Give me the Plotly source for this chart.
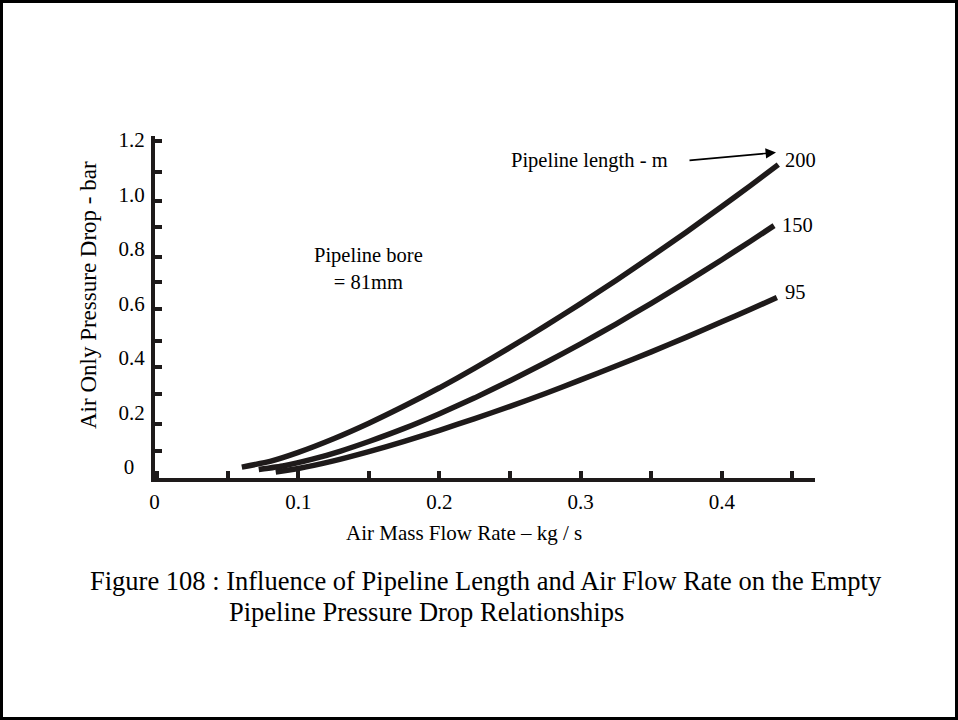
import plotly.graph_objects as go

# ---- data ----
flow_200 = [0.060, 0.080, 0.100, 0.125, 0.150, 0.175, 0.200, 0.225, 0.250,
            0.275, 0.300, 0.325, 0.350, 0.375, 0.400, 0.420, 0.440]
dp_200 = [0.000, 0.021, 0.054, 0.104, 0.161, 0.224, 0.291, 0.363, 0.439,
          0.518, 0.600, 0.685, 0.773, 0.863, 0.956, 1.032, 1.110]

flow_150 = [0.072, 0.090, 0.110, 0.130, 0.150, 0.175, 0.200, 0.225, 0.250,
            0.275, 0.300, 0.325, 0.350, 0.375, 0.400, 0.420, 0.437]
dp_150 = [-0.009, 0.005, 0.029, 0.059, 0.094, 0.142, 0.196, 0.254, 0.317,
          0.383, 0.452, 0.525, 0.601, 0.680, 0.761, 0.828, 0.886]

flow_95 = [0.084, 0.100, 0.125, 0.150, 0.175, 0.200, 0.225, 0.250, 0.275,
           0.300, 0.325, 0.350, 0.375, 0.400, 0.420, 0.439]
dp_95 = [-0.018, -0.005, 0.023, 0.057, 0.094, 0.135, 0.178, 0.223, 0.270,
         0.320, 0.371, 0.423, 0.477, 0.533, 0.578, 0.622]

series_labels = ["200", "150", "95"]

x_tick_vals = [0, 0.1, 0.2, 0.3, 0.4]
x_tick_text = ["0\u00a0", "0.1", "0.2", "0.3", "0.4"]
y_tick_vals = [0, 0.2, 0.4, 0.6, 0.8, 1.0, 1.2]
y_tick_text = ["0\u00a0\u00a0", "0.2", "0.4", "0.6", "0.8", "1.0", "1.2"]
y_minor_vals = [0.06, 0.16, 0.27, 0.366, 0.464, 0.582, 0.678, 0.77, 0.88, 0.978, 1.082, 1.198]

# ---- layout geometry (pixels) ----
W, H = 958, 720
L, R, T, B = 155, 143, 136, 242
PW, PH = W - L - R, H - T - B

def px(xpix):
    return (xpix - L) / PW

def py(ypix):
    return (H - B - ypix) / PH

FONT = "Liberation Serif, Times New Roman, serif"
INK = "#1e1a1a"

fig = go.Figure()
for xs, ys in [(flow_200, dp_200), (flow_150, dp_150), (flow_95, dp_95)]:
    fig.add_trace(go.Scatter(x=xs, y=ys, mode="lines",
                             line=dict(color=INK, width=5.5, shape="spline", smoothing=0.5),
                             showlegend=False, hoverinfo="skip"))

fig.update_layout(
    width=W, height=H,
    margin=dict(l=L, r=R, t=T, b=B),
    paper_bgcolor="white", plot_bgcolor="white",
    font=dict(family=FONT, size=20, color="black"),
    showlegend=False,
)

fig.update_xaxes(
    range=[-0.0015, 0.466], showgrid=False, zeroline=False,
    showline=True, linecolor=INK, linewidth=4,
    tickmode="array", tickvals=x_tick_vals, ticktext=x_tick_text,
    ticks="inside", ticklen=7, tickwidth=4, tickcolor=INK,
    minor=dict(tickmode="linear", tick0=0.05, dtick=0.1, ticks="inside",
               ticklen=7, tickwidth=4, tickcolor=INK),
    tickfont=dict(family=FONT, size=21, color="black"),
    ticklabelstandoff=2,
)
fig.update_yaxes(
    range=[-0.04, 1.215], showgrid=False, zeroline=False,
    showline=True, linecolor=INK, linewidth=4,
    tickmode="array", tickvals=y_tick_vals, ticktext=y_tick_text,
    ticks="",
    minor=dict(tickmode="array", tickvals=y_minor_vals, ticks="inside",
               ticklen=7, tickwidth=4, tickcolor=INK),
    tickfont=dict(family=FONT, size=21, color="black"),
    ticklabelstandoff=2,
)

ann = []
# axis titles
ann.append(dict(xref="paper", yref="paper", x=px(464), y=py(533), text="Air Mass Flow Rate – kg / s",
                showarrow=False, font=dict(size=21), xanchor="center", yanchor="middle"))
ann.append(dict(xref="paper", yref="paper", x=px(88), y=py(295), text="Air Only Pressure Drop - bar",
                showarrow=False, font=dict(size=23), textangle=-90, xanchor="center", yanchor="middle"))
# in-plot notes
ann.append(dict(xref="paper", yref="paper", x=px(368), y=py(268), text="Pipeline bore<br>= 81mm",
                showarrow=False, font=dict(size=20.5), xanchor="center", yanchor="middle", align="center"))
ann.append(dict(xref="paper", yref="paper", x=px(589), y=py(160), text="Pipeline length - m",
                showarrow=False, font=dict(size=20.5), xanchor="center", yanchor="middle"))
ann.append(dict(xref="paper", yref="paper", x=px(776), y=py(152.5), text="", showarrow=True,
                arrowhead=2, arrowsize=1.3, arrowwidth=1.6, arrowcolor="black",
                ax=-88, ay=8))
# series labels
for lab, (xx, yy) in zip(series_labels, [(800, 160), (797, 225), (795, 292)]):
    ann.append(dict(xref="paper", yref="paper", x=px(xx), y=py(yy), text=lab,
                    showarrow=False, font=dict(size=20.5), xanchor="center", yanchor="middle"))
# caption
ann.append(dict(xref="paper", yref="paper", x=px(88), y=py(581),
                text="Figure 108 : Influence of Pipeline Length and Air Flow Rate on the Empty",
                showarrow=False, font=dict(size=26.5), xanchor="left", yanchor="middle"))
ann.append(dict(xref="paper", yref="paper", x=px(227), y=py(612),
                text="Pipeline Pressure Drop Relationships",
                showarrow=False, font=dict(size=26.5), xanchor="left", yanchor="middle"))
fig.update_layout(annotations=ann)

# outer frame
fig.add_shape(type="rect", xref="paper", yref="paper",
              x0=px(1.5), x1=px(956.5), y0=py(718.5), y1=py(1.5),
              line=dict(color="black", width=3), fillcolor="rgba(0,0,0,0)", layer="above")

fig.write_html("out.html")
